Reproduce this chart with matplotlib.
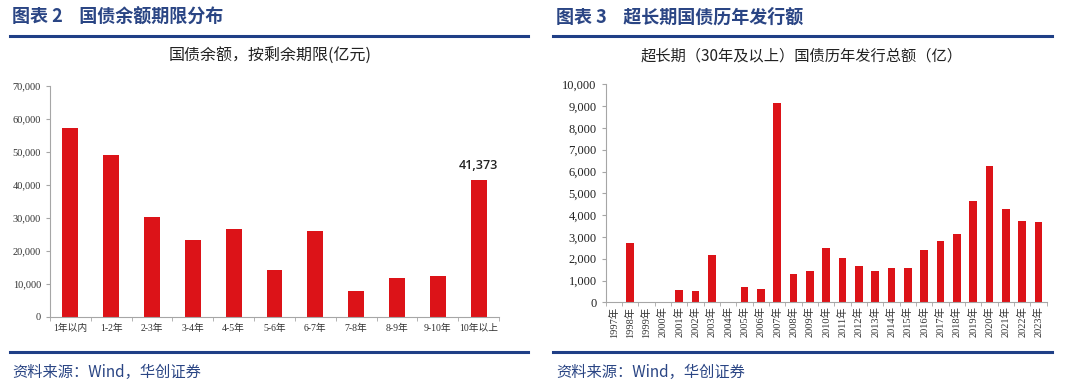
import matplotlib
matplotlib.use("Agg")
import matplotlib.pyplot as plt
from matplotlib.ticker import FuncFormatter, MultipleLocator
from matplotlib.lines import Line2D

plt.rcParams['font.family'] = ['Liberation Serif', 'Noto Sans CJK SC']

# 左图：国债余额，按剩余期限(亿元)
terms = ["1年以内", "1-2年", "2-3年", "3-4年", "4-5年", "5-6年",
         "6-7年", "7-8年", "8-9年", "9-10年", "10年以上"]
balance = [57300, 49000, 30100, 23300, 26600, 14200,
           25900, 7800, 11600, 12200, 41373]

# 右图：超长期（30年及以上）国债历年发行总额（亿）
years = [f"{y}年" for y in range(1997, 2024)]
issuance = [0, 2700, 0, 0, 550, 520, 2150, 0, 690, 630,
            9120, 1310, 1420, 2490, 2030, 1650, 1420, 1575, 1575, 2415,
            2810, 3150, 4650, 6270, 4300, 3730, 3700]

RED = "#dc1318"
BLUE = "#2a4584"
LINE = "#1f3f86"
GRID = "#a6a6a6"
W, H = 1080, 391

fig = plt.figure(figsize=(W / 100, H / 100), dpi=100)

def px(x0, y0, x1, y1):
    return [x0 / W, 1 - y1 / H, (x1 - x0) / W, (y1 - y0) / H]

thousands = FuncFormatter(lambda v, p: f"{int(v):,}")

# 标题与分隔线
fig.text(12 / W, 1 - 17 / H, "图表 2    国债余额期限分布", color=BLUE,
         fontsize=13, fontweight='bold', va='center', family=['Noto Sans CJK SC'])
fig.text(556 / W, 1 - 17 / H, "图表 3    超长期国债历年发行额", color=BLUE,
         fontsize=13, fontweight='bold', va='center', family=['Noto Sans CJK SC'])
for x0, x1 in [(10, 528), (553, 1052)]:
    for yy in (36, 352):
        fig.add_artist(Line2D([x0 / W, x1 / W], [1 - yy / H] * 2, color=LINE, lw=2.2))

fig.text(270 / W, 1 - 56 / H, "国债余额，按剩余期限(亿元)", fontsize=11.5,
         ha='center', va='center', family=['Noto Sans CJK SC'], color="#222222")
fig.text(802 / W, 1 - 56 / H, "超长期（30年及以上）国债历年发行总额（亿）", fontsize=11,
         ha='center', va='center', family=['Noto Sans CJK SC'], color="#222222")

fig.text(12 / W, 1 - 372 / H, "资料来源：Wind，华创证券", color=BLUE, fontsize=11,
         style='italic', va='center', family=['Noto Sans CJK SC'])
fig.text(556 / W, 1 - 372 / H, "资料来源：Wind，华创证券", color=BLUE, fontsize=11,
         style='italic', va='center', family=['Noto Sans CJK SC'])


def style_axis(ax, n):
    for s in ['top', 'right']:
        ax.spines[s].set_visible(False)
    for s in ['left', 'bottom']:
        ax.spines[s].set_color(GRID)
        ax.spines[s].set_linewidth(0.8)
    ax.set_xlim(-0.5, n - 0.5)
    ax.set_xticks(range(n))
    ax.tick_params(axis='x', length=0)
    ax.set_xticks([i - 0.5 for i in range(n + 1)], minor=True)
    ax.tick_params(axis='x', which='minor', length=3, color=GRID, direction='out')
    ax.tick_params(axis='y', length=3, color=GRID, direction='out')
    ax.yaxis.set_major_formatter(thousands)


# 左图
ax1 = fig.add_axes(px(50, 85.7, 499, 316.7))
ax1.bar(range(len(terms)), balance, width=0.39, color=RED)
style_axis(ax1, len(terms))
ax1.set_ylim(0, 70000)
ax1.yaxis.set_major_locator(MultipleLocator(10000))
ax1.set_xticklabels(terms, fontsize=7, color="#333333")
ax1.tick_params(axis='x', pad=5)
ax1.tick_params(axis='y', labelsize=7.5, labelcolor="#333333")
ax1.annotate(f"{balance[-1]:,}", (len(terms) - 1, balance[-1]), xytext=(0, 6),
             textcoords='offset points', ha='center', va='bottom',
             fontsize=9, fontweight='semibold', family=['Open Sans'], color="#222222")

# 右图
ax2 = fig.add_axes(px(605.7, 84.3, 1046.7, 302.3))
ax2.bar(range(len(years)), issuance, width=0.47, color=RED)
style_axis(ax2, len(years))
ax2.set_ylim(0, 10000)
ax2.yaxis.set_major_locator(MultipleLocator(1000))
ax2.set_xticklabels(years, fontsize=7.5, rotation=90, color="#333333")
ax2.tick_params(axis='x', pad=3)
ax2.tick_params(axis='y', labelsize=9, labelcolor="#222222")

fig.savefig("out.png", dpi=100)
